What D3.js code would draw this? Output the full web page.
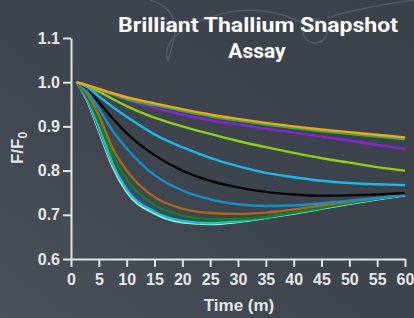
<!DOCTYPE html>
<html lang="en">
<head>
  <meta charset="UTF-8">
  <title>Brilliant Thallium Snapshot Assay</title>
  <script src="https://d3js.org/d3.v7.min.js"></script>
  <style>
    body {
      margin: 0;
      background-color: #3d444e;
      font-family: Arial, "Liberation Sans", sans-serif;
    }
    .axis path,
    .axis line {
      stroke: #e2e4e6;
      stroke-width: 2px;
    }
    .axis text {
      fill: #e6e8ea;
      font-size: 16px;
      font-weight: bold;
    }
    .line {
      fill: none;
      stroke-width: 2.4px;
    }
  </style>
</head>
<body>
<div id="chart"></div>

<script>
// sample times (minutes)
const times = [1, 3, 5, 7.5, 10, 15, 20, 25, 30, 35, 40, 45, 50, 55, 60];

// F/F0 traces, drawn bottom-most first
const lightCyan = [1.0, 0.955, 0.89, 0.808, 0.752, 0.703, 0.683, 0.679, 0.684, 0.693, 0.703, 0.714, 0.725, 0.735, 0.744];
const navy      = [1.0, 0.958, 0.895, 0.815, 0.762, 0.71, 0.688, 0.683, 0.686, 0.695, 0.705, 0.716, 0.727, 0.737, 0.746];
const teal      = [1.0, 0.96, 0.9, 0.815, 0.757, 0.707, 0.686, 0.681, 0.685, 0.694, 0.704, 0.715, 0.726, 0.736, 0.745];
const darkGreen = [1.0, 0.965, 0.91, 0.835, 0.78, 0.722, 0.698, 0.69, 0.69, 0.695, 0.705, 0.716, 0.727, 0.737, 0.746];
const brown     = [1.0, 0.972, 0.925, 0.85, 0.8, 0.74, 0.714, 0.704, 0.702, 0.705, 0.712, 0.721, 0.73, 0.738, 0.746];
const blue      = [1.0, 0.978, 0.94, 0.89, 0.85, 0.79, 0.755, 0.735, 0.724, 0.72, 0.721, 0.726, 0.732, 0.738, 0.745];
const black     = [1.0, 0.985, 0.955, 0.918, 0.885, 0.835, 0.80, 0.777, 0.762, 0.752, 0.746, 0.743, 0.744, 0.746, 0.749];
const cyan      = [1.0, 0.988, 0.968, 0.944, 0.922, 0.882, 0.853, 0.829, 0.81, 0.795, 0.785, 0.777, 0.772, 0.769, 0.767];
const lime      = [1.0, 0.991, 0.979, 0.962, 0.946, 0.92, 0.9, 0.883, 0.867, 0.853, 0.84, 0.828, 0.818, 0.808, 0.80];
const purple    = [1.0, 0.993, 0.984, 0.972, 0.96, 0.942, 0.927, 0.914, 0.904, 0.895, 0.886, 0.877, 0.868, 0.858, 0.849];
const green     = [1.0, 0.992, 0.984, 0.973, 0.962, 0.948, 0.935, 0.923, 0.913, 0.904, 0.896, 0.889, 0.883, 0.877, 0.871];
const orange    = [1.0, 0.993, 0.985, 0.975, 0.966, 0.952, 0.939, 0.927, 0.917, 0.908, 0.90, 0.893, 0.887, 0.881, 0.875];

const yTicks = [0.6, 0.7, 0.8, 0.9, 1.0, 1.1];
const xTicks = [0, 5, 10, 15, 20, 25, 30, 35, 40, 45, 50, 55, 60];
const titleLines = ["Brilliant Thallium Snapshot", "Assay"];

const series = [
  { values: lightCyan, color: "#a8ecf4" },
  { values: navy, color: "#2a46cc" },
  { values: teal, color: "#1cc9a4" },
  { values: darkGreen, color: "#138024" },
  { values: brown, color: "#a8691c" },
  { values: blue, color: "#1a8fc6" },
  { values: black, color: "#060606" },
  { values: cyan, color: "#1cb9e6" },
  { values: lime, color: "#8fd010" },
  { values: purple, color: "#8a22d6" },
  { values: green, color: "#2fae4a" },
  { values: orange, color: "#f2a51c" }
];

const W = 414, H = 318;
const margin = { top: 38, right: 9, bottom: 59, left: 71 };

const svg = d3.select("#chart")
  .append("svg")
  .attr("width", W)
  .attr("height", H);

// background
const defs = svg.append("defs");
const grad = defs.append("linearGradient")
  .attr("id", "bg")
  .attr("x1", "0").attr("y1", "1")
  .attr("x2", "1").attr("y2", "0");
grad.append("stop").attr("offset", "0").attr("stop-color", "#4a515b");
grad.append("stop").attr("offset", "0.45").attr("stop-color", "#3e454f");
grad.append("stop").attr("offset", "1").attr("stop-color", "#3a414b");
svg.append("rect").attr("width", W).attr("height", H).attr("fill", "url(#bg)");

// faint swoosh decoration in the top part
const deco = svg.append("g")
  .attr("fill", "none")
  .attr("stroke", "#ffffff")
  .attr("stroke-opacity", 0.13)
  .attr("stroke-width", 1.5);
deco.append("path").attr("d", "M150,0 C185,10 175,40 168,60 C160,40 190,20 230,12 C270,5 300,20 318,32");
deco.append("circle").attr("cx", 315).attr("cy", 31).attr("r", 12);
deco.append("path").attr("d", "M327,18 C350,10 385,4 414,0");

const x = d3.scaleLinear().domain([0, 60]).range([margin.left, W - margin.right]);
const y = d3.scaleLinear().domain([0.6, 1.1]).range([H - margin.bottom, margin.top]);

// axes
svg.append("g")
  .attr("class", "axis")
  .attr("transform", `translate(0,${H - margin.bottom})`)
  .call(d3.axisBottom(x).tickValues(xTicks).tickSize(8).tickSizeOuter(0).tickPadding(6))
  .call(g => g.selectAll("text").attr("dy", "0.75em"));

svg.append("g")
  .attr("class", "axis")
  .attr("transform", `translate(${margin.left},0)`)
  .call(d3.axisLeft(y).tickValues(yTicks).tickFormat(d3.format(".1f")).tickSize(8).tickSizeOuter(0).tickPadding(3));

// lines
const line = d3.line()
  .x((d, i) => x(times[i]))
  .y(d => y(d))
  .curve(d3.curveMonotoneX);

series.forEach(s => {
  svg.append("path")
    .datum(s.values)
    .attr("class", "line")
    .attr("stroke", s.color)
    .attr("d", line);
});

// axis titles
svg.append("text")
  .attr("x", 239)
  .attr("y", 311)
  .attr("text-anchor", "middle")
  .attr("fill", "#e6e8ea")
  .attr("font-size", 17)
  .attr("font-weight", "bold")
  .text("Time (m)");

const yLabel = svg.append("text")
  .attr("transform", "translate(23,148) rotate(-90)")
  .attr("text-anchor", "middle")
  .attr("fill", "#e6e8ea")
  .attr("font-size", 17)
  .attr("font-weight", "bold");
yLabel.append("tspan").text("F/F");
yLabel.append("tspan").attr("font-size", 12).attr("dy", 4).text("0");

// title
svg.append("text")
  .attr("x", 258)
  .attr("y", 32)
  .attr("text-anchor", "middle")
  .attr("fill", "#ffffff")
  .attr("font-family", "Roboto, 'Open Sans', sans-serif")
  .attr("font-size", 21)
  .attr("font-weight", "bold")
  .attr("textLength", 280)
  .attr("lengthAdjust", "spacingAndGlyphs")
  .text(titleLines[0]);

svg.append("text")
  .attr("x", 257)
  .attr("y", 58)
  .attr("text-anchor", "middle")
  .attr("fill", "#ffffff")
  .attr("font-family", "Roboto, 'Open Sans', sans-serif")
  .attr("font-size", 21)
  .attr("font-weight", "bold")
  .text(titleLines[1]);
</script>
</body>
</html>
